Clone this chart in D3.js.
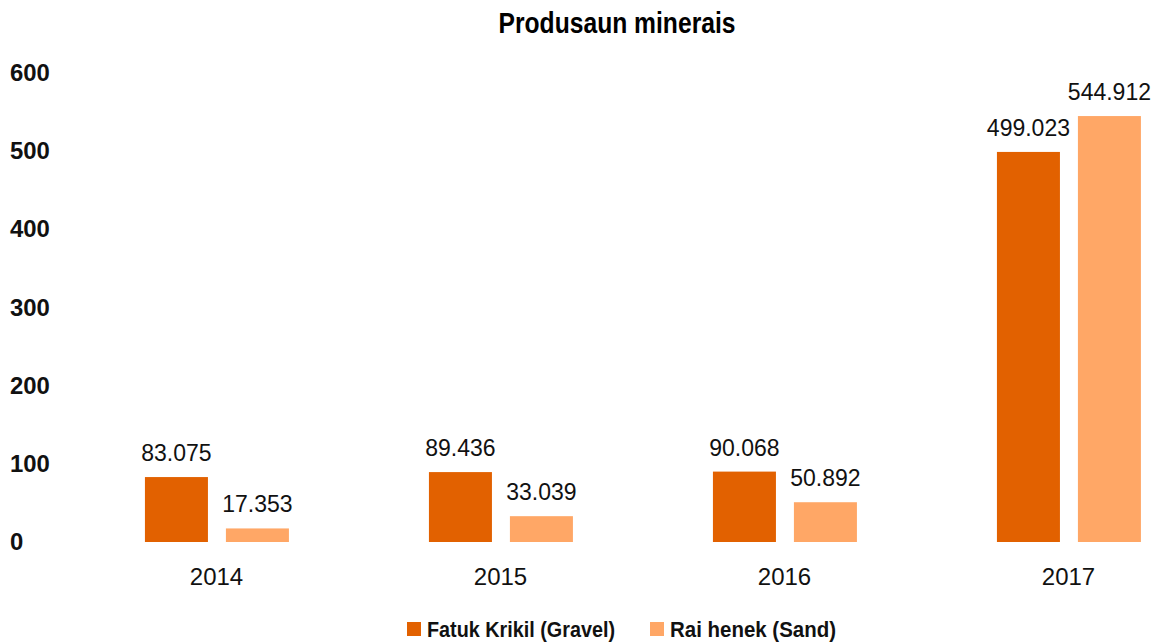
<html>
<script src="https://d3js.org/d3.v7.min.js"></script>
<style>
  body { margin: 0; background: #fff; }
  text { font-family: "Liberation Sans Narrow", "Liberation Sans", sans-serif; }
</style>
<body>
<svg id="chart" width="1157" height="642"></svg>
<script>
// data
const years = ['2014', '2015', '2016', '2017'];
const seriesNames = ['Fatuk Krikil (Gravel)', 'Rai henek (Sand)'];
const gravel = [83.075, 89.436, 90.068, 499.023];
const sand = [17.353, 33.039, 50.892, 544.912];
const yTicks = [0, 100, 200, 300, 400, 500, 600];
const colors = ['#e26100', '#ffa766'];

const svg = d3.select('#chart');
const values = [gravel, sand];

const x0 = d3.scaleBand().domain(years).range([74.5, 1210.5]);
const x1 = d3.scaleBand().domain(seriesNames)
  .range([x0.bandwidth() * 0.248, x0.bandwidth() * 0.755])
  .paddingInner(0.222);
const y = d3.scaleLinear().domain([0, 600]).range([542, 73]);

// title (condensed look via textLength)
svg.append('text')
  .attr('x', 617).attr('y', 33)
  .attr('text-anchor', 'middle')
  .attr('textLength', 237).attr('lengthAdjust', 'spacingAndGlyphs')
  .style('font-size', '29px').style('font-weight', 'bold')
  .text('Produsaun minerais');

// y axis labels
svg.append('g').selectAll('text').data(yTicks).enter().append('text')
  .attr('x', 10)
  .attr('y', d => y(d) + 8)
  .attr('textLength', d => String(d).length * 13.3).attr('lengthAdjust', 'spacingAndGlyphs')
  .style('font-size', '23px').style('font-weight', 'bold').style('fill', '#111')
  .text(d => d);

// bars
const groups = svg.append('g').selectAll('g').data(years).enter().append('g')
  .attr('transform', d => 'translate(' + x0(d) + ',0)');

seriesNames.forEach(function(s, si) {
  groups.append('rect')
    .attr('x', x1(s))
    .attr('width', x1.bandwidth())
    .attr('y', (d, i) => y(values[si][i]))
    .attr('height', (d, i) => y(0) - y(values[si][i]))
    .attr('fill', colors[si]);
  groups.append('text')
    .attr('x', x1(s) + x1.bandwidth() / 2)
    .attr('y', (d, i) => y(values[si][i]) - 16)
    .attr('text-anchor', 'middle')
    .style('font-size', '23px').style('fill', '#111')
    .text((d, i) => values[si][i].toFixed(3));
});

// x labels
groups.append('text')
  .attr('x', x0.bandwidth() / 2)
  .attr('y', 585)
  .attr('text-anchor', 'middle')
  .style('font-size', '24px').style('fill', '#111')
  .text(d => d);

// legend
const legX = [407, 650];
const legW = [188, 166];
const leg = svg.append('g').selectAll('g').data(seriesNames).enter().append('g')
  .attr('transform', (d, i) => 'translate(' + legX[i] + ',622)');
leg.append('rect').attr('width', 14).attr('height', 14).attr('fill', (d, i) => colors[i]);
leg.append('text')
  .attr('x', 20).attr('y', 15)
  .attr('textLength', (d, i) => legW[i]).attr('lengthAdjust', 'spacingAndGlyphs')
  .style('font-size', '22px').style('font-weight', 'bold').style('fill', '#111')
  .text(d => d);
</script>
</body>
</html>
